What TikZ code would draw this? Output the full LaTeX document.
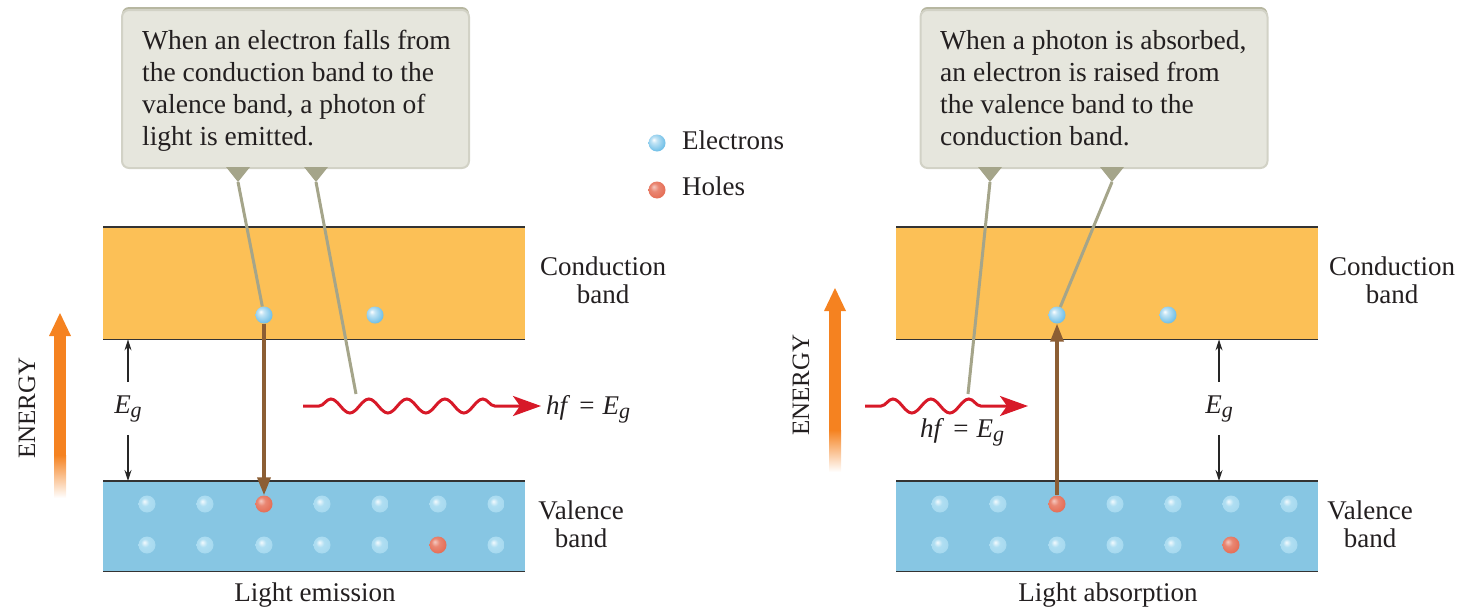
\documentclass[tikz,border=0pt]{standalone}
\usepackage{fontspec}
\setmainfont{Liberation Serif}
\usetikzlibrary{arrows.meta,decorations.pathmorphing,shadows}
\definecolor{condC}{RGB}{252,192,86}
\definecolor{valC}{RGB}{135,198,227}
\definecolor{eC}{RGB}{105,188,230}
\definecolor{veC}{RGB}{175,222,242}
\definecolor{hC}{RGB}{228,105,80}
\definecolor{enC}{RGB}{245,130,32}
\definecolor{brC}{RGB}{140,94,52}
\definecolor{waveC}{RGB}{215,25,40}
\definecolor{boxC}{RGB}{230,230,221}
\definecolor{boxE}{RGB}{210,210,198}
\definecolor{ptrC}{RGB}{165,165,138}
\definecolor{txtC}{RGB}{35,31,32}
\pgfdeclareradialshading{eball}{\pgfpoint{-10bp}{10bp}}{color(0bp)=(white); color(8bp)=(eC!40!white); color(30bp)=(eC); color(50bp)=(eC!85!black)}
\pgfdeclareradialshading{vball}{\pgfpoint{-8bp}{8bp}}{color(0bp)=(white!85!veC); color(12bp)=(veC); color(35bp)=(veC!70!valC); color(50bp)=(valC!92!black)}
\pgfdeclareradialshading{hball}{\pgfpoint{-10bp}{10bp}}{color(0bp)=(hC!35!white); color(12bp)=(hC!80!white); color(32bp)=(hC); color(50bp)=(hC!80!black)}
\tikzset{
  elec/.style={circle, minimum size=17, inner sep=0, shading=eball},
  velec/.style={circle, minimum size=17, inner sep=0, shading=vball},
  hole/.style={circle, minimum size=17, inner sep=0, shading=hball},
  lbl/.style={font=\fontsize{27}{28}\selectfont, text=txtC, align=center, inner sep=0},
  ctext/.style={font=\fontsize{27.5}{32}\selectfont, text=txtC, align=left, inner sep=0, anchor=north west},
  callout/.style={draw=boxE, line width=2, fill=boxC, rounded corners=7, minimum width=347, minimum height=158, inner sep=0,
    drop shadow={shadow xshift=0, shadow yshift=-3, fill=ptrC!80, opacity=1}},
  ptr/.style={draw=ptrC, line width=3},
  ptrhead/.style={fill=ptrC},
  tran/.style={draw=brC, line width=3.5, -{Triangle[length=18,width=13]}},
  gap/.style={draw=black!85, line width=1.2, -{Stealth[length=11,width=7]}},
  wave/.style={draw=waveC, line width=3, decorate, decoration={snake, amplitude=7, segment length=38, pre length=16, post length=30}, -{Stealth[length=28,width=20,inset=7]}},
  bandbox/.style={minimum height=#1, minimum width=422, inner sep=0, anchor=north west},
  bandline/.style={draw=black!80, line width=1.5},
  eng/.style={font=\fontsize{25}{25}\selectfont, text=txtC, rotate=90, inner sep=0}
}
\newcommand{\Eg}{\textit{E}\raisebox{-0.4ex}{\fontsize{22}{22}\selectfont\textit{g}}}
\newcommand{\hfEg}{\textit{hf}\hspace{9pt}=\hspace{8pt}\Eg}
\begin{document}
\begin{tikzpicture}[x=1pt,y=-1pt]
\useasboundingbox (0,0) rectangle (1463,608);

%% ---------- LEFT PANEL ----------
\node[bandbox=112, fill=condC] (cbL) at (103,227) {};
\node[bandbox=90, fill=valC] (vbL) at (103,481) {};
\draw[bandline] (cbL.north west) -- (cbL.north east);
\draw[bandline] (cbL.south west) -- (cbL.south east);
\draw[bandline] (vbL.north west) -- (vbL.north east);
\draw[bandline] (vbL.south west) -- (vbL.south east);

\node[elec] (eL1) at (264,315) {};
\node[elec] (eL2) at (375,315) {};
\foreach \x [count=\i] in {147,205,264,322,380,438,496}{
  \ifnum\i=3 \node[hole] (vL\i a) at (\x,504) {};
  \else \node[velec] (vL\i a) at (\x,504) {}; \fi
  \ifnum\i=6 \node[hole] (vL\i b) at (\x,545) {};
  \else \node[velec] (vL\i b) at (\x,545) {}; \fi
}
\draw[tran] (eL1) -- (vL3a);

\node[lbl] (egL) at (128,409) {\Eg};
\draw[gap] ([yshift=13]egL.north) -- (egL.north |- cbL.south);
\draw[gap] ([yshift=-12]egL.south) -- (egL.south |- vbL.north);

% energy arrow
\fill[enC] (54,334) rectangle (66,455);
\shade[top color=enC, bottom color=white] (54,455) rectangle (66,498);
\fill[enC] (49,336) -- (60,313) -- (71,336) -- cycle;
\node[eng] (enL) at (27,408) {ENERGY};

% photon
\coordinate (wL0) at (303,406);
\coordinate (wL1) at (541,406);
\draw[wave] (wL0) -- (wL1);
\node[lbl, anchor=base west] (hfL) at (546,414) {\hfEg};

% labels
\node[lbl, anchor=north] (cbLt) at (603,257) {Conduction\\band};
\node[lbl, anchor=north] (vbLt) at (581,501) {Valence\\band};
\node[lbl, anchor=base] (capL) at (315,601) {Light emission};

% callout
\node[callout] (boxL) at (295.5,89) {};
\node[ctext] (txL) at (142,30) {When an electron falls from\\the conduction band to the\\valence band, a photon of\\light is emitted.};
\coordinate (pL1) at (238,182);
\coordinate (pL2) at (316,182);
\coordinate (tL) at (356,394);
\fill[ptrhead] (226,167) -- (250,167) -- (pL1) -- cycle;
\fill[ptrhead] (304,167) -- (328,167) -- (pL2) -- cycle;
\draw[ptr] (pL1) -- (eL1);
\draw[ptr] (pL2) -- (tL);

%% ---------- LEGEND ----------
\node[elec] (legE) at (657,143) {};
\node[lbl, anchor=base west] (legEt) at (682,149) {Electrons};
\node[hole] (legH) at (657,190) {};
\node[lbl, anchor=base west] (legHt) at (682,195) {Holes};

%% ---------- RIGHT PANEL ----------
\node[bandbox=112, fill=condC] (cbR) at (896,227) {};
\node[bandbox=90, fill=valC] (vbR) at (896,481) {};
\draw[bandline] (cbR.north west) -- (cbR.north east);
\draw[bandline] (cbR.south west) -- (cbR.south east);
\draw[bandline] (vbR.north west) -- (vbR.north east);
\draw[bandline] (vbR.south west) -- (vbR.south east);

\node[elec] (eR1) at (1057,315) {};
\node[elec] (eR2) at (1168,315) {};
\foreach \x [count=\i] in {940,998,1057,1115,1173,1231,1289}{
  \ifnum\i=3 \node[hole] (vR\i a) at (\x,504) {};
  \else \node[velec] (vR\i a) at (\x,504) {}; \fi
  \ifnum\i=6 \node[hole] (vR\i b) at (\x,545) {};
  \else \node[velec] (vR\i b) at (\x,545) {}; \fi
}
\draw[tran] (vR3a) -- (eR1);

\node[lbl] (egR) at (1219,409) {\Eg};
\draw[gap] ([yshift=13]egR.north) -- (egR.north |- cbR.south);
\draw[gap] ([yshift=-12]egR.south) -- (egR.south |- vbR.north);

% energy arrow
\fill[enC] (829,309) rectangle (841,430);
\shade[top color=enC, bottom color=white] (829,430) rectangle (841,472);
\fill[enC] (824,311) -- (835,288) -- (846,311) -- cycle;
\node[eng] (enR) at (801,385) {ENERGY};

% photon
\coordinate (wR0) at (865,406);
\coordinate (wR1) at (1028,406);
\draw[wave] (wR0) -- (wR1);
\node[lbl, anchor=base west] (hfR) at (920,437) {\hfEg};

% labels
\node[lbl, anchor=north] (cbRt) at (1392,257) {Conduction\\band};
\node[lbl, anchor=north] (vbRt) at (1370,501) {Valence\\band};
\node[lbl, anchor=base] (capR) at (1108,601) {Light absorption};

% callout
\node[callout] (boxR) at (1094,89) {};
\node[ctext] (txR) at (940,30) {When a photon is absorbed,\\an electron is raised from\\the valence band to the\\conduction band.};
\coordinate (pR1) at (990,182);
\coordinate (pR2) at (1112,182);
\coordinate (tR) at (968,394);
\fill[ptrhead] (978,167) -- (1002,167) -- (pR1) -- cycle;
\fill[ptrhead] (1100,167) -- (1124,167) -- (pR2) -- cycle;
\draw[ptr] (pR1) -- (tR);
\draw[ptr] (pR2) -- (eR1);
\end{tikzpicture}
\end{document}
